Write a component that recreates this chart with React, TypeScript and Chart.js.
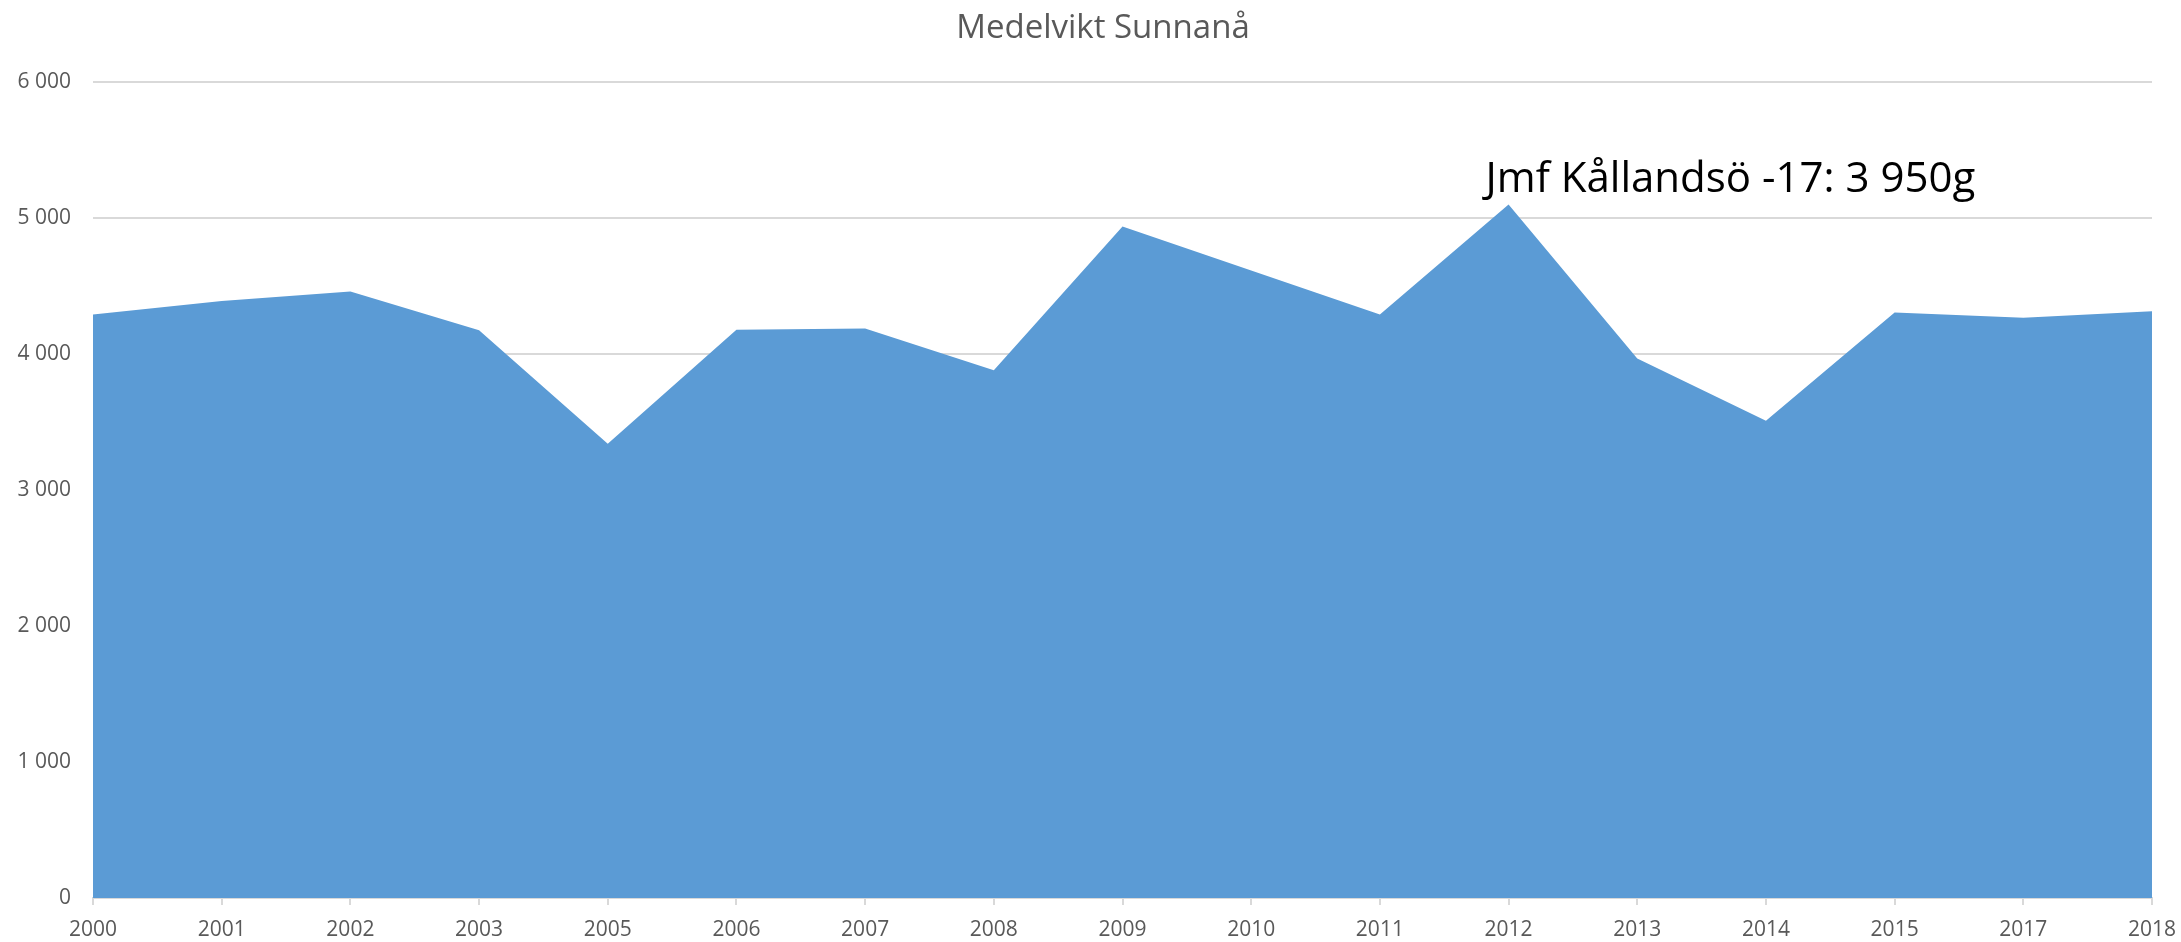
import React, { useEffect, useRef } from "react";
import { Chart, registerables } from "chart.js";

Chart.register(...registerables);

const years = ["2000", "2001", "2002", "2003", "2005", "2006", "2007", "2008", "2009", "2010", "2011", "2012", "2013", "2014", "2015", "2017", "2018"];
const medelvikt = [4290, 4390, 4460, 4175, 3340, 4178, 4188, 3880, 4938, 4614, 4290, 5100, 3966, 3510, 4306, 4267, 4314];
const yTicks = [0, 1000, 2000, 3000, 4000, 5000, 6000];
const titleText = "Medelvikt Sunnanå";
const annotationText = "Jmf Kållandsö -17: 3 950g";
const annotationYear = "2012";
const annotationValue = 5190;

const fmt = (v: number) => {
  const s = String(Math.round(v));
  return s.length > 3 ? s.slice(0, s.length - 3) + " " + s.slice(s.length - 3) : s;
};

const textPlugin = {
  id: "texts",
  afterDatasetsDraw(chart: any) {
    const { ctx, scales } = chart;
    const x = scales.x.getPixelForValue(years.indexOf(annotationYear)) - 23;
    const y = scales.y.getPixelForValue(annotationValue);
    ctx.save();
    ctx.font = '42px "Open Sans"';
    ctx.fillStyle = "#000000";
    ctx.textAlign = "left";
    ctx.textBaseline = "alphabetic";
    ctx.fillText(annotationText, x, y);
    ctx.font = '33px "Open Sans"';
    ctx.fillStyle = "#595959";
    ctx.textAlign = "center";
    ctx.textBaseline = "middle";
    ctx.fillText(titleText, 1103, 29);
    ctx.restore();
  },
};

export default function App() {
  const ref = useRef<HTMLCanvasElement | null>(null);
  useEffect(() => {
    if (!ref.current) return;
    const chart = new Chart(ref.current, {
      type: "line",
      data: {
        labels: years,
        datasets: [
          {
            data: medelvikt,
            fill: "origin",
            backgroundColor: "#5B9BD5",
            borderColor: "#5B9BD5",
            borderWidth: 0,
            pointRadius: 0,
            tension: 0,
          },
        ],
      },
      options: {
        animation: false,
        responsive: true,
        maintainAspectRatio: false,
        layout: { padding: { left: 0, right: 29, top: 82, bottom: 0 } },
        plugins: {
          legend: { display: false },
          tooltip: { enabled: false },
          title: { display: false },
        },
        scales: {
          x: {
            offset: false,
            grid: {
              drawOnChartArea: false,
              drawTicks: true,
              tickLength: 7,
              color: "#d9d9d9",
              lineWidth: 2,
            },
            border: { display: true, color: "#d9d9d9", width: 2 },
            ticks: {
              color: "#595959",
              font: { family: "Open Sans", size: 21 },
              padding: 12,
              maxRotation: 0,
              autoSkip: false,
            },
            afterFit: (scale: any) => {
              scale.paddingLeft = 0;
              scale.paddingRight = 0;
              scale.height = 44;
            },
          },
          y: {
            min: 0,
            max: 6000,
            afterBuildTicks: (scale: any) => {
              scale.ticks = yTicks.map((v) => ({ value: v }));
            },
            grid: { drawTicks: false, color: "#d9d9d9", lineWidth: 2 },
            border: { display: false },
            ticks: {
              color: "#595959",
              font: { family: "Open Sans", size: 21 },
              padding: 22,
              callback: (v: any) => fmt(Number(v)),
            },
            afterFit: (scale: any) => {
              scale.width = 93;
              scale.paddingTop = 0;
              scale.paddingBottom = 0;
            },
          },
        },
      },
      plugins: [textPlugin],
    });
    return () => chart.destroy();
  }, []);
  return (
    <div style={{ position: "fixed", left: 0, top: 0, width: 2181, height: 942 }}>
      <canvas ref={ref} />
    </div>
  );
}
